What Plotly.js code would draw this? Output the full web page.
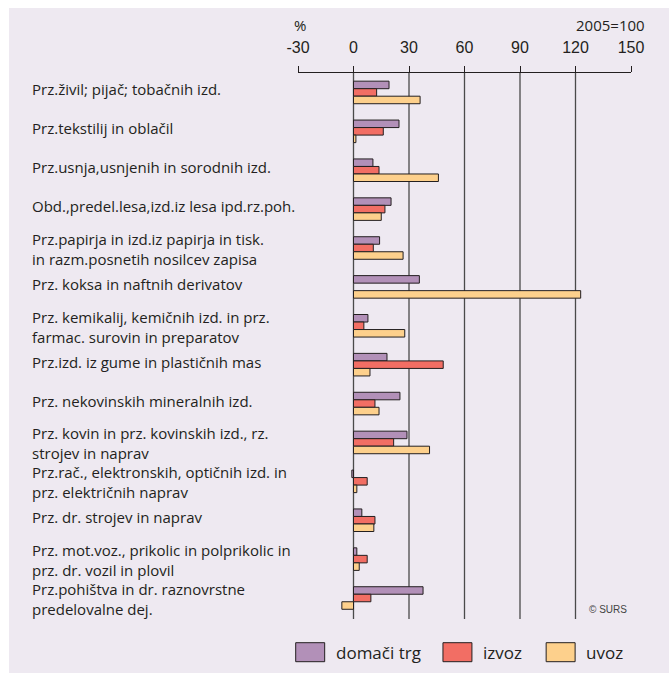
<!DOCTYPE html>
<html>
<head>
<meta charset="utf-8">
<script src="https://cdn.plot.ly/plotly-3.0.1.min.js"></script>
<style>
  html, body { margin: 0; padding: 0; background: #ffffff; overflow: hidden; }
  #chart { position: absolute; left: 9px; top: 8px; width: 660px; height: 665px; }
</style>
</head>
<body>
<div id="chart"></div>
<script>
// ---- data ----
const categories = [
  "Prz.živil; pijač; tobačnih izd.",
  "Prz.tekstilij in oblačil",
  "Prz.usnja,usnjenih in sorodnih izd.",
  "Obd.,predel.lesa,izd.iz lesa ipd.rz.poh.",
  "Prz.papirja in izd.iz papirja in tisk.<br>in razm.posnetih nosilcev zapisa",
  "Prz. koksa in naftnih derivatov",
  "Prz. kemikalij, kemičnih izd. in prz.<br>farmac. surovin in preparatov",
  "Prz.izd. iz gume in plastičnih mas",
  "Prz. nekovinskih mineralnih izd.",
  "Prz. kovin in prz. kovinskih izd., rz.<br>strojev in naprav",
  "Prz.rač., elektronskih, optičnih izd. in<br>prz. električnih naprav",
  "Prz. dr. strojev in naprav",
  "Prz. mot.voz., prikolic in polprikolic in<br>prz. dr. vozil in plovil",
  "Prz.pohištva in dr. raznovrstne<br>predelovalne dej."
];
const seriesNames = ["domači trg", "izvoz", "uvoz"];
const domaciTrg = [19.2, 24.6, 10.5, 20.3, 14.1, 35.6, 7.8, 18.1, 25.1, 28.9, -0.9, 4.5, 1.8, 37.6];
const izvoz     = [12.5, 16.1, 13.8, 17.0, 10.7, null, 5.6, 48.5, 11.6, 21.7, 7.4, 11.6, 7.4, 9.4];
const uvoz      = [36.0, 1.3, 45.9, 15.0, 26.8, 122.8, 27.7, 8.9, 13.8, 41.1, 1.8, 11.0, 3.1, -6.3];
const tickVals  = [-30, 0, 30, 60, 90, 120, 150];
const gridVals  = [0, 30, 60, 90, 120];
const unitLabel = "%";
const baseLabel = "2005=100";
const sourceLabel = "© SURS";

// ---- styles ----
const colors = ["#b290b8", "#f26e64", "#fdd08c"];
const ink = "#231f20";
const labelFont = { family: "Open Sans, Noto Sans, sans-serif", size: 15, color: ink };
// legend layout (paper coordinates)
const legendBoxX0 = [-0.0069, 0.4353, 0.7452];
const legendBoxW = 0.087;
const legendTextX = [0.1074, 0.5496, 0.8595];
const legendY0 = -0.0782, legendY1 = -0.0434;

const traces = [domaciTrg, izvoz, uvoz].map((vals, i) => ({
  type: "bar",
  orientation: "h",
  name: seriesNames[i],
  y: categories,
  x: vals,
  marker: { color: colors[i], line: { color: ink, width: 1 } },
  hoverinfo: "x+name"
}));

const shapes = gridVals.map(v => ({
  type: "line", xref: "x", yref: "paper",
  x0: v, x1: v, y0: 0, y1: 1,
  line: { color: "#4a4a4a", width: 1.3 },
  layer: "below"
}));

const annotations = categories.map(c => ({
  xref: "paper", yref: "y",
  x: -0.806, y: c,
  xanchor: "left", yanchor: "middle", align: "left",
  text: c, showarrow: false,
  yshift: c.indexOf("<br>") >= 0 ? -1 : 3,
  font: labelFont
}));
annotations.push({
  xref: "paper", yref: "paper", x: 0.005, y: 1.088,
  xanchor: "center", yanchor: "middle", text: unitLabel, showarrow: false,
  font: { family: "Open Sans, sans-serif", size: 15, color: ink }
});
annotations.push({
  xref: "paper", yref: "paper", x: 1.049, y: 1.088,
  xanchor: "right", yanchor: "middle", text: baseLabel, showarrow: false,
  font: { family: "Open Sans, sans-serif", size: 15, color: ink }
});
annotations.push({
  xref: "paper", yref: "paper", x: 0.995, y: 0.0165,
  xanchor: "right", yanchor: "middle", text: sourceLabel, showarrow: false,
  font: { family: "Liberation Sans, Arial, sans-serif", size: 10, color: "#444" }
});

// hand-drawn legend (large swatches like the original)
seriesNames.forEach((name, i) => {
  shapes.push({
    type: "rect", xref: "paper", yref: "paper",
    x0: legendBoxX0[i], x1: legendBoxX0[i] + legendBoxW,
    y0: legendY0, y1: legendY1,
    fillcolor: colors[i], line: { color: ink, width: 1 }
  });
  annotations.push({
    xref: "paper", yref: "paper",
    x: legendTextX[i], y: (legendY0 + legendY1) / 2,
    xanchor: "left", yanchor: "middle", text: name, showarrow: false,
    font: { family: "Open Sans, sans-serif", size: 17, color: ink }
  });
});

const layout = {
  width: 660, height: 665,
  margin: { l: 289, r: 38, t: 65, b: 54 },
  paper_bgcolor: "#eee9f1",
  plot_bgcolor: "#eee9f1",
  barmode: "group",
  bargap: 0.42,
  bargroupgap: 0,
  showlegend: false,
  xaxis: {
    side: "top",
    range: [-30, 150],
    tickvals: tickVals,
    ticktext: tickVals.map(String),
    showgrid: false,
    zeroline: false,
    showline: true,
    linecolor: ink,
    linewidth: 1,
    ticks: "outside",
    ticklen: 6,
    tickcolor: ink,
    tickwidth: 1,
    ticklabelstandoff: 7,
    tickfont: { family: "Liberation Sans, Arial, sans-serif", size: 16, color: ink },
    fixedrange: true
  },
  yaxis: {
    type: "category",
    autorange: "reversed",
    showticklabels: false,
    showgrid: false,
    zeroline: false,
    showline: false,
    ticks: "",
    fixedrange: true
  },
  shapes: shapes,
  annotations: annotations
};

Plotly.newPlot("chart", traces, layout, { displayModeBar: false, staticPlot: true });
</script>
</body>
</html>
